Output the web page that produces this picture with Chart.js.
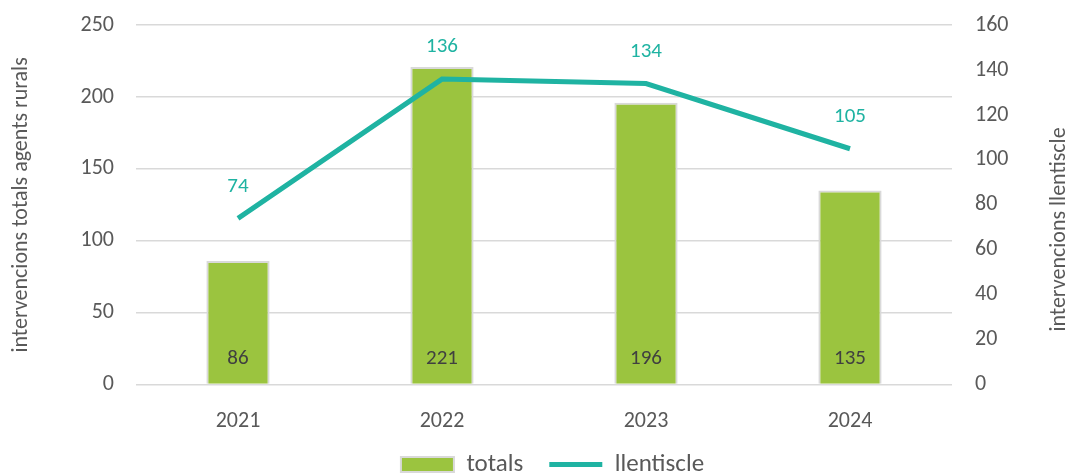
<!DOCTYPE html>
<html>
<head>
<meta charset="utf-8">
<script src="https://cdn.jsdelivr.net/npm/chart.js@4.4.1/dist/chart.umd.min.js"></script>
<style>
  html, body { margin: 0; padding: 0; background: #fff; }
  #wrap { width: 1073px; height: 475px; }
</style>
</head>
<body>
<div id="wrap"><canvas id="ctx"></canvas></div>
<script>
  // chart data
  const years = ['2021', '2022', '2023', '2024'];
  const totals = [86, 221, 196, 135];
  const llentiscle = [74, 136, 134, 105];
  const leftTitle = 'intervencions totals agents rurals';
  const rightTitle = 'intervencions llentiscle';

  const green = '#9bc43f';
  const teal = '#1fb3a2';
  const grey = '#595959';
  const font = "Calibri, Carlito, Lato, sans-serif";
  const legendGap = 26;   // horizontal space between legend items
  const legendLift = 25;  // vertical padding we don't want to pay for

  // simple value labels, bars at the bottom, line above the points
  const valueLabels = {
    id: 'valueLabels',
    beforeLayout(chart) {
      // keep the legend short even with a wide item gap
      const lg = chart.legend;
      if (lg && !lg._patched) {
        const fit = lg.fit;
        lg.fit = function () { fit.call(this); this.height -= legendLift; };
        lg._patched = true;
      }
    },
    afterLayout(chart) {
      const lg = chart.legend;
      lg.top -= legendLift;
      lg.left += 17; lg.right += 17;
    },
    afterDatasetsDraw(chart) {
      const c = chart.ctx;
      c.save();
      c.font = '21px ' + font;
      c.textAlign = 'center';
      c.textBaseline = 'middle';
      chart.data.datasets.forEach((ds, i) => {
        const meta = chart.getDatasetMeta(i);
        meta.data.forEach((el, j) => {
          if (ds.type === 'bar') {
            c.fillStyle = '#404040';
            c.fillText(ds.data[j], el.x, el.base - 25);
          } else {
            c.fillStyle = teal;
            c.fillText(ds.data[j], el.x, el.y - 32);
          }
        });
      });
      // right axis title, reading bottom to top like the left one
      c.fillStyle = grey;
      c.font = '22px ' + font;
      c.translate(chart.width - 14, chart.height / 2 - 8);
      c.rotate(-Math.PI / 2);
      c.fillText(rightTitle, 0, 0);
      c.restore();
    }
  };

  const config = {
    data: {
      labels: years,
      datasets: [
        {
          type: 'bar',
          label: 'totals',
          data: totals,
          yAxisID: 'y',
          backgroundColor: green,
          borderColor: '#d9d9d9',
          borderWidth: 2,
          barPercentage: 0.31,
          categoryPercentage: 1,
          pointStyle: 'rect',
          order: 2
        },
        {
          type: 'line',
          label: 'llentiscle',
          data: llentiscle,
          yAxisID: 'y1',
          borderColor: teal,
          backgroundColor: teal,
          borderWidth: 5,
          pointRadius: 0,
          tension: 0,
          pointStyle: 'line',
          order: 1
        }
      ]
    },
    options: {
      responsive: true,
      maintainAspectRatio: false,
      animation: false,
      layout: { padding: { top: 1, right: 6, left: 4, bottom: -12 } },
      plugins: {
        legend: {
          position: 'bottom',
          labels: {
            sort: (a, b) => a.datasetIndex - b.datasetIndex,
            usePointStyle: true,
            pointStyleWidth: 53,
            boxHeight: 15,
            padding: legendGap,
            color: grey,
            font: { family: font, size: 25 }
          }
        },
        tooltip: { enabled: false }
      },
      scales: {
        x: {
          grid: { display: false },
          border: { display: false },
          ticks: { color: grey, font: { family: font, size: 22 }, padding: 16 }
        },
        y: {
          position: 'left',
          min: 0, max: 250,
          ticks: { stepSize: 50, color: grey, font: { family: font, size: 22 }, padding: 12 },
          grid: { color: '#d9d9d9', lineWidth: 1.5, drawTicks: true, tickLength: 10, tickColor: 'rgba(0,0,0,0)' },
          border: { display: false },
          title: { display: true, text: leftTitle, color: grey, font: { family: font, size: 22 }, padding: 4 },
          afterFit(s) { s.width = 132; }
        },
        y1: {
          position: 'right',
          min: 0, max: 160,
          ticks: { stepSize: 20, color: grey, font: { family: font, size: 22 }, padding: 12 },
          grid: { display: false, drawTicks: true, tickLength: 11 },
          border: { display: false },
          afterFit(s) { s.width = 115; }
        }
      }
    },
    plugins: [valueLabels]
  };

  var myChart = new Chart(document.getElementById('ctx'), config);
</script>
</body>
</html>
